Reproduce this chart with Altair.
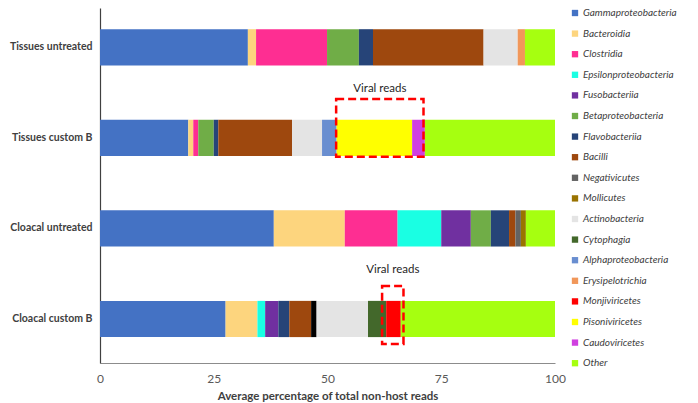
import altair as alt
import pandas as pd

samples = ["Tissues untreated", "Tissues custom B", "Cloacal untreated", "Cloacal custom B"]

classes = [
    "Gammaproteobacteria", "Bacteroidia", "Clostridia", "Epsilonproteobacteria",
    "Fusobacteriia", "Betaproteobacteria", "Flavobacteriia", "Bacilli",
    "Unlabelled", "Negativicutes", "Mollicutes", "Actinobacteria", "Cytophagia",
    "Alphaproteobacteria", "Erysipelotrichia", "Monjiviricetes", "Pisoniviricetes",
    "Caudoviricetes", "Other",
]
colors = [
    "#4472C4", "#FDD57E", "#FE2E92", "#1AFFE3",
    "#7030A0", "#70AD47", "#264478", "#9E480E",
    "#000000", "#636363", "#997300", "#E4E4E4", "#43682B",
    "#698ED0", "#F1975A", "#FF0000", "#FFFF00",
    "#D040E0", "#A6FF10",
]
legend_classes = [c for c in classes if c != "Unlabelled"]

# values per sample, aligned with `classes`
tissues_untreated = [32.5, 1.8, 15.6, 0, 0, 7.0, 3.1, 24.3, 0, 0, 0, 7.5, 0, 0, 1.6, 0, 0, 0, 6.6]
tissues_customB   = [19.4, 1.1, 1.1, 0, 0, 3.4, 1.0, 16.2, 0, 0, 0, 6.6, 0, 3.2, 0, 0, 16.6, 2.8, 28.6]
cloacal_untreated = [38.2, 15.6, 11.6, 9.6, 6.5, 4.4, 4.0, 1.4, 0, 1.2, 1.1, 0, 0, 0, 0, 0, 0, 0, 6.4]
cloacal_customB   = [27.6, 7.0, 0, 1.7, 2.9, 0, 2.4, 4.8, 1.2, 0, 0, 11.3, 4.0, 0, 0, 3.2, 0, 0, 33.9]
sample_values = [tissues_untreated, tissues_customB, cloacal_untreated, cloacal_customB]

# viral read annotation boxes
box_samples = ["Tissues custom B", "Cloacal custom B"]
box_start = [51.9, 62.0]
box_end = [71.1, 66.7]
box_label = ["Viral reads", "Viral reads"]

rows = []
for s, vals in zip(samples, sample_values):
    for i, (c, v) in enumerate(zip(classes, vals)):
        if v > 0:
            rows.append({"sample": s, "cls": c, "value": v, "idx": i})
df = pd.DataFrame(rows)

boxes = pd.DataFrame({"sample": box_samples, "x0": box_start, "x1": box_end, "label": box_label})
boxes["xc"] = (boxes["x0"] + boxes["x1"]) / 2

FONT = "Lato"
LEFT, W, H = 92, 455, 355

yenc = alt.Y("sample:N", sort=samples, title=None,
             scale=alt.Scale(paddingInner=0.6, paddingOuter=0.26, align=0.45),
             axis=alt.Axis(labelFontWeight="bold", labelFontSize=10.5, labelColor="#404040",
                           labelFont=FONT, ticks=False, labelPadding=8,
                           domainColor="#404040", domainWidth=1.2))

bars = alt.Chart(df).mark_bar().encode(
    x=alt.X("value:Q", stack="zero",
            scale=alt.Scale(domain=[0, 100], nice=False),
            axis=alt.Axis(values=[0, 25, 50, 75, 100], grid=False, ticks=False,
                          labelFontSize=12, labelColor="#595959", labelFont=FONT,
                          labelPadding=10, labelFlush=False, domainColor="#8c8c8c",
                          title="Average percentage of total non-host reads",
                          titleFont=FONT, titleFontSize=11.5, titleFontWeight="bold",
                          titleColor="#404040", titlePadding=6)),
    y=yenc,
    color=alt.Color("cls:N", scale=alt.Scale(domain=classes, range=colors),
                    legend=alt.Legend(values=legend_classes, title=None, orient="none",
                                      legendX=W + 15, legendY=0, padding=0,
                                      symbolType="square",
                                      symbolSize=40, symbolStrokeWidth=0,
                                      labelFontStyle="italic", labelFont=FONT,
                                      labelFontSize=10, labelColor="#404040",
                                      rowPadding=10.6, labelLimit=0, labelOffset=3)),
    order=alt.Order("idx:Q", sort="ascending"),
)

layers = [bars]
for name, off in zip(box_samples, [-10, -4]):
    sub = boxes[boxes["sample"] == name]
    layers.append(
        alt.Chart(sub).mark_bar(filled=False, stroke="#FF0000", strokeWidth=2.5,
                                strokeDash=[8, 4], height={"band": 1.6}, yOffset=off).encode(
            x=alt.X("x0:Q"), x2="x1:Q", y=alt.Y("sample:N", sort=samples)
        )
    )

labels = alt.Chart(boxes).mark_text(font=FONT, fontSize=11.5, color="#262626", dy=-49,
                                    baseline="middle").encode(
    x="xc:Q", y=alt.Y("sample:N", sort=samples), text="label:N"
)
layers.append(labels)

chart = alt.layer(*layers).properties(
    width=W, height=H,
    padding={"left": LEFT, "top": 0, "right": 682 - LEFT - W, "bottom": 395 - H},
    autosize=alt.AutoSizeParams(type="none"),
).configure_view(stroke=None)

chart.save("out.html", embed_options={"renderer": "svg", "actions": False})
